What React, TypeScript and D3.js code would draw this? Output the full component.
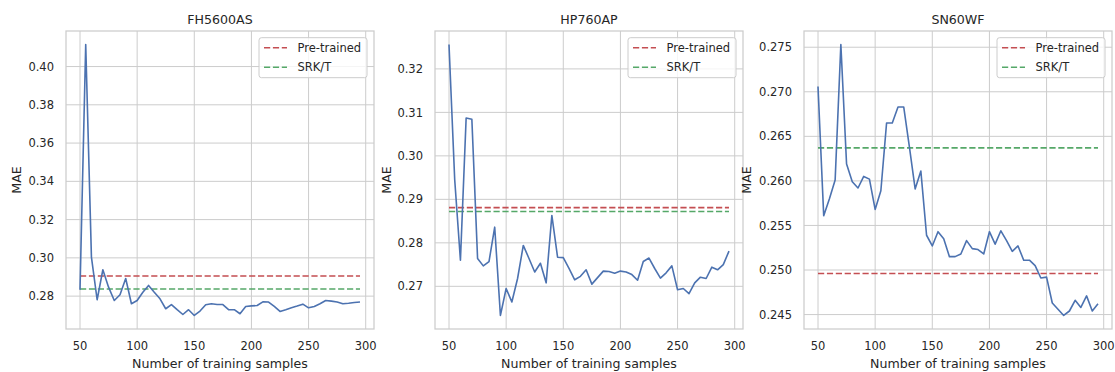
import React from "react";
import * as d3 from "d3";

// Number of training samples used for each fine-tuning run
const samples = d3.range(50, 300, 5);

// Mean absolute error after fine-tuning, one series per device
const maeFH5600AS = [
  0.2833, 0.4115, 0.3004, 0.2781, 0.2938, 0.2847, 0.2777, 0.2807, 0.2892, 0.276,
  0.2777, 0.282, 0.2856, 0.282, 0.2786, 0.2734, 0.2756, 0.2729, 0.2704, 0.2729,
  0.2699, 0.2722, 0.2755, 0.276, 0.2756, 0.2756, 0.2729, 0.2729, 0.2708, 0.2746,
  0.2749, 0.2751, 0.277, 0.2769, 0.2746, 0.272, 0.2729, 0.2739, 0.2748, 0.2758,
  0.2739, 0.2746, 0.276, 0.2777, 0.2774, 0.2769, 0.276, 0.2763, 0.2767, 0.2769,
];
const maeHP760AP = [
  0.3256, 0.2945, 0.276, 0.3087, 0.3084, 0.2764, 0.2747, 0.2757, 0.2836, 0.2633,
  0.2695, 0.2664, 0.2718, 0.2794, 0.2764, 0.2733, 0.2753, 0.2708, 0.2863, 0.2767,
  0.2766, 0.2741, 0.2715, 0.2723, 0.2738, 0.2705, 0.272, 0.2735, 0.2734, 0.273,
  0.2735, 0.2733, 0.2727, 0.2714, 0.2757, 0.2765, 0.2741, 0.2719, 0.2731, 0.2747,
  0.2692, 0.2695, 0.2683, 0.2708, 0.2721, 0.2718, 0.2744, 0.2738, 0.275, 0.2781,
];
const maeSN60WF = [
  0.2706, 0.2561, 0.258, 0.2601, 0.2753, 0.2619, 0.2599, 0.2592, 0.2605, 0.2602,
  0.2568, 0.2589, 0.2665, 0.2665, 0.2683, 0.2683, 0.2638, 0.2591, 0.2611, 0.2539,
  0.2527, 0.2543, 0.2535, 0.2515, 0.2515, 0.2518, 0.2533, 0.2524, 0.2523, 0.2518,
  0.2543, 0.2529, 0.2544, 0.2533, 0.2521, 0.2527, 0.2511, 0.2511, 0.2505, 0.2491,
  0.2492, 0.2463, 0.2456, 0.2449, 0.2454, 0.2466, 0.2458, 0.2471, 0.2454, 0.2462,
];

// Baselines: pre-trained model without fine-tuning, and the SRK/T formula
const preTrained = [0.2905, 0.2881, 0.2496];
const srkT = [0.2837, 0.2872, 0.2637];

const titles = ["FH5600AS", "HP760AP", "SN60WF"];
const xTicks = [50, 100, 150, 200, 250, 300];
const yTicksFH5600AS = [0.28, 0.3, 0.32, 0.34, 0.36, 0.38, 0.4];
const yTicksHP760AP = [0.27, 0.28, 0.29, 0.3, 0.31, 0.32];
const yTicksSN60WF = [0.245, 0.25, 0.255, 0.26, 0.265, 0.27, 0.275];
const legendLabels = ["Pre-trained", "SRK/T"];

const BLUE = "#4c72b0";
const RED = "#c44e52";
const GREEN = "#55a868";
const GRID = "#cccccc";
const TEXT = "#262626";
const FONT = "'DejaVu Sans', sans-serif";

const TOP = 31;
const BOTTOM = 329;
const WIDTH = 308;

type PanelProps = {
  title: string;
  values: number[];
  pre: number;
  srk: number;
  yTicks: number[];
  decimals: number;
  left: number;
  yLabelOffset: number;
};

function padded(lo: number, hi: number): [number, number] {
  const m = (hi - lo) * 0.05;
  return [lo - m, hi + m];
}

function Panel({ title, values, pre, srk, yTicks, decimals, left, yLabelOffset }: PanelProps) {
  const right = left + WIDTH;
  const x = d3.scaleLinear().domain(padded(50, 295)).range([left, right]);
  const all = [...values, pre, srk];
  const y = d3
    .scaleLinear()
    .domain(padded(d3.min(all) as number, d3.max(all) as number))
    .range([BOTTOM, TOP]);

  const line = d3
    .line<number>()
    .x((_, i) => x(samples[i]))
    .y((d) => y(d));

  const xs = d3.extent(samples) as [number, number];
  const legX = right - 115;
  const legY = TOP + 6.7;

  return (
    <g>
      {/* grid */}
      {xTicks.map((t) => (
        <line key={"gx" + t} x1={x(t)} x2={x(t)} y1={TOP} y2={BOTTOM} stroke={GRID} strokeWidth={1} />
      ))}
      {yTicks.map((t) => (
        <line key={"gy" + t} x1={left} x2={right} y1={y(t)} y2={y(t)} stroke={GRID} strokeWidth={1} />
      ))}
      {/* frame */}
      <rect x={left} y={TOP} width={WIDTH} height={BOTTOM - TOP} fill="none" stroke={GRID} strokeWidth={1.25} />

      {/* baselines */}
      <line x1={x(xs[0])} x2={x(xs[1])} y1={y(pre)} y2={y(pre)} stroke={RED} strokeWidth={1.6} strokeDasharray="6.2,2.7" />
      <line x1={x(xs[0])} x2={x(xs[1])} y1={y(srk)} y2={y(srk)} stroke={GREEN} strokeWidth={1.6} strokeDasharray="6.2,2.7" />

      {/* fine-tuned MAE */}
      <path d={line(values) || ""} fill="none" stroke={BLUE} strokeWidth={1.6} strokeLinejoin="round" />

      {/* tick labels */}
      {xTicks.map((t) => (
        <text key={"tx" + t} x={x(t)} y={350} textAnchor="middle" fontSize={11.5} fill={TEXT}>
          {t}
        </text>
      ))}
      {yTicks.map((t) => (
        <text key={"ty" + t} x={left - 12} y={y(t)} dy="0.36em" textAnchor="end" fontSize={11.5} fill={TEXT}>
          {t.toFixed(decimals)}
        </text>
      ))}

      {/* titles */}
      <text x={(left + right) / 2} y={23.5} textAnchor="middle" fontSize={12.6} fill={TEXT}>
        {title}
      </text>
      <text x={(left + right) / 2} y={367.5} textAnchor="middle" fontSize={12.6} fill={TEXT}>
        Number of training samples
      </text>
      <text
        transform={`translate(${left - yLabelOffset},${(TOP + BOTTOM) / 2}) rotate(-90)`}
        textAnchor="middle"
        dy="0.36em"
        fontSize={12.6}
        fill={TEXT}
      >
        MAE
      </text>

      {/* legend */}
      <rect x={legX} y={legY} width={108} height={40} rx={2.5} fill="white" fillOpacity={0.8} stroke={GRID} strokeWidth={1} />
      {legendLabels.map((lab, i) => (
        <g key={lab}>
          <line
            x1={legX + 5}
            x2={legX + 28}
            y1={legY + 10 + i * 19.5}
            y2={legY + 10 + i * 19.5}
            stroke={i === 0 ? RED : GREEN}
            strokeWidth={1.6}
            strokeDasharray="6.2,2.7"
          />
          <text x={legX + 38.5} y={legY + 10 + i * 19.5} dy="0.36em" fontSize={11.5} fill={TEXT}>
            {lab}
          </text>
        </g>
      ))}
    </g>
  );
}

export default function App() {
  const panels = [
    { values: maeFH5600AS, yTicks: yTicksFH5600AS, decimals: 2, left: 66, yLabelOffset: 50 },
    { values: maeHP760AP, yTicks: yTicksHP760AP, decimals: 2, left: 435, yLabelOffset: 49 },
    { values: maeSN60WF, yTicks: yTicksSN60WF, decimals: 3, left: 804, yLabelOffset: 57.5 },
  ];
  return (
    <div style={{ position: "absolute", left: 0, top: 0 }}>
      <svg width={1115} height={372} style={{ display: "block", fontFamily: FONT }}>
        <rect width={1115} height={372} fill="white" />
        {panels.map((p, i) => (
          <Panel
            key={titles[i]}
            title={titles[i]}
            values={p.values}
            pre={preTrained[i]}
            srk={srkT[i]}
            yTicks={p.yTicks}
            decimals={p.decimals}
            left={p.left}
            yLabelOffset={p.yLabelOffset}
          />
        ))}
      </svg>
    </div>
  );
}
